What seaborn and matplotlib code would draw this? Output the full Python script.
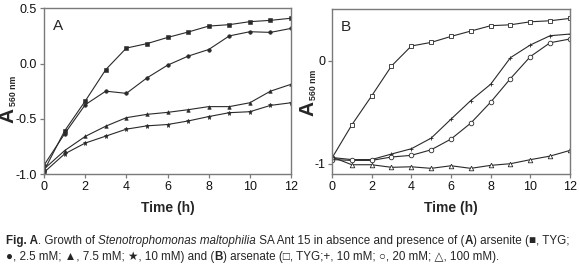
import numpy as np
import pandas as pd
import seaborn as sns
import matplotlib.pyplot as plt
from matplotlib.offsetbox import TextArea, HPacker, AnchoredOffsetbox

# Datos
horas = list(range(13))

# Panel A: arsenito
a_tyg = [-0.97, -0.61, -0.34, -0.055, 0.14, 0.18, 0.236, 0.285, 0.339, 0.352, 0.379, 0.391, 0.41]
a_25 = [-0.92, -0.636, -0.373, -0.25, -0.27, -0.13, -0.015, 0.067, 0.127, 0.25, 0.288, 0.282, 0.318]
a_75 = [-0.955, -0.788, -0.66, -0.567, -0.49, -0.46, -0.442, -0.418, -0.39, -0.39, -0.355, -0.25, -0.188]
a_10 = [-0.985, -0.818, -0.72, -0.657, -0.594, -0.564, -0.552, -0.52, -0.48, -0.445, -0.436, -0.379, -0.355]

# Panel B: arseniato
b_tyg = [-0.945, -0.623, -0.342, -0.052, 0.142, 0.177, 0.235, 0.287, 0.339, 0.348, 0.377, 0.387, 0.41]
b_10 = [-0.94, -0.96, -0.96, -0.906, -0.855, -0.752, -0.568, -0.387, -0.229, 0.029, 0.152, 0.242, 0.258]
b_20 = [-0.96, -0.968, -0.968, -0.935, -0.919, -0.865, -0.761, -0.606, -0.403, -0.174, 0.039, 0.174, 0.21]
b_100 = [-0.935, -1.01, -1.01, -1.035, -1.03, -1.045, -1.02, -1.045, -1.016, -1.0, -0.961, -0.926, -0.871]

sns.set_style('ticks')
plt.rcParams['font.family'] = ['Liberation Sans', 'DejaVu Sans']

fig = plt.figure(figsize=(5.8, 2.73), dpi=100)
axA = fig.add_axes([0.0759, 0.3626, 0.4259, 0.607])
axB = fig.add_axes([0.5724, 0.3626, 0.4103, 0.604])

gris = '#7a7a7a'
linea = '#2a2a2a'

seriesA = [(a_tyg, 's'), (a_25, 'o'), (a_75, '^'), (a_10, '*')]
for vals, m in seriesA:
    df = pd.DataFrame({'Tiempo': horas, 'A560': vals})
    ms = 2.6 if m != '*' else 3.6
    sns.lineplot(data=df, x='Tiempo', y='A560', ax=axA, color=linea, lw=0.8,
                 marker=m, markersize=ms, markerfacecolor=linea,
                 markeredgecolor=linea, markeredgewidth=0.4)

seriesB = [(b_tyg, 's'), (b_10, '+'), (b_20, 'o'), (b_100, '^')]
for vals, m in seriesB:
    df = pd.DataFrame({'Tiempo': horas, 'A560': vals})
    ms = 3.3 if m != '+' else 3.0
    sns.lineplot(data=df, x='Tiempo', y='A560', ax=axB, color=linea, lw=0.8,
                 marker=m, markersize=ms, markerfacecolor='white',
                 markeredgecolor=linea, markeredgewidth=0.6)

axA.set_xlim(0, 12)
axA.set_ylim(-1.0, 0.5)
axA.set_xticks([0, 2, 4, 6, 8, 10, 12])
axA.set_yticks([-1.0, -0.5, 0.0, 0.5])
axA.set_yticklabels(['-1.0', '-0.5', '0.0', '0.5'])

axB.set_xlim(0, 12)
axB.set_ylim(-1.1, 0.5)
axB.set_xticks([0, 2, 4, 6, 8, 10, 12])
axB.set_yticks([-1, 0])
axB.set_yticklabels(['-1', '0'])

for ax, letra in [(axA, 'A'), (axB, 'B')]:
    for s in ax.spines.values():
        s.set_visible(True)
        s.set_color(gris)
        s.set_linewidth(1.0)
    ax.tick_params(direction='out', length=3, width=0.9, color=gris,
                   labelsize=9, pad=2, labelcolor='#111111')
    ax.set_xlabel('Time (h)', fontsize=10, fontweight='bold', labelpad=6)
    ax.set_ylabel('')
    ax.text(0.036, 0.893, letra, transform=ax.transAxes, fontsize=11,
            ha='left', va='center')

# Etiqueta del eje y: A con subindice
for ax, xa, ya, ys in [(axA, -0.146, 0.356, 0.50), (axB, -0.101, 0.40, 0.54)]:
    ax.text(xa, ya, 'A', transform=ax.transAxes, rotation=90, fontsize=15,
            fontweight='bold', ha='center', va='center')
    ax.text(xa + 0.023, ys, '560 nm', transform=ax.transAxes, rotation=90,
            fontsize=6.3, fontweight='bold', ha='center', va='center')

# Pie de figura con formato mixto
fs = 8.4
def trozo(t, peso='normal', estilo='normal'):
    return TextArea(t, textprops=dict(fontsize=fs, fontweight=peso, fontstyle=estilo,
                                      family=['Liberation Sans', 'DejaVu Sans']))

linea1 = HPacker(children=[
    trozo('Fig. A', 'bold'), trozo('. Growth of '),
    trozo('Stenotrophomonas maltophilia', estilo='italic'),
    trozo(' SA Ant 15 in absence and presence of ('), trozo('A', 'bold'),
    trozo(') arsenite (\u25a0, TYG;'),
], pad=0, sep=0)
linea2 = HPacker(children=[
    trozo('\u25cf, 2.5 mM; \u25b2, 7.5 mM; \u2605, 10 mM) and ('), trozo('B', 'bold'),
    trozo(') arsenate (\u25a1, TYG;+, 10 mM; \u25cb, 20 mM; \u25b3, 100 mM).'),
], pad=0, sep=0)

for caja, yy in [(linea1, 1 - 241 / 273), (linea2, 1 - 257 / 273)]:
    ab = AnchoredOffsetbox(loc='center left', child=caja, pad=0, frameon=False,
                           bbox_to_anchor=(6 / 580, yy), bbox_transform=fig.transFigure,
                           borderpad=0)
    fig.add_artist(ab)

fig.savefig('out.png', dpi=100)
